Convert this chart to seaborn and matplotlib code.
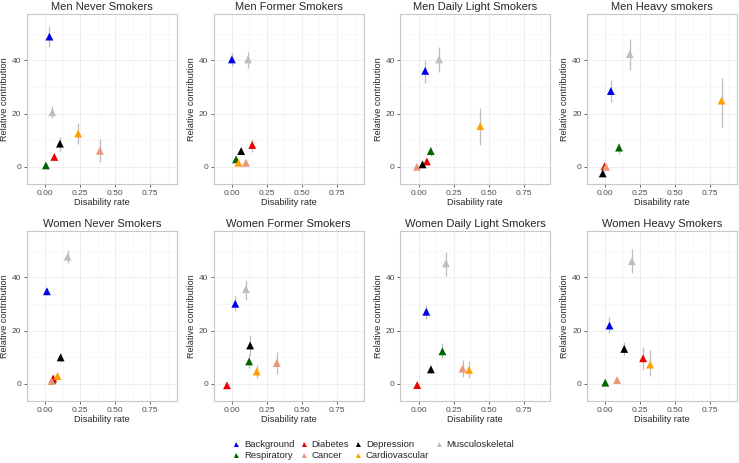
import pandas as pd
import seaborn as sns
import matplotlib.pyplot as plt
from matplotlib.lines import Line2D
from matplotlib.ticker import MultipleLocator

# condition order (also the legend order, column-wise)
conditions = ["Background", "Respiratory", "Diabetes", "Cancer",
              "Depression", "Cardiovascular", "Musculoskeletal"]
colors = ["#0000EE", "#006400", "#EE0000", "#E9967A",
          "#000000", "#FFA000", "#BEBEBE"]

titles = ["Men Never Smokers", "Men Former Smokers", "Men Daily Light Smokers", "Men Heavy smokers",
          "Women Never Smokers", "Women Former Smokers", "Women Daily Light Smokers", "Women Heavy Smokers"]

# values: disability rate, relative contribution, lower / upper bound
men_never_rate = [0.03, 0.005, 0.065, 0.39, 0.105, 0.235, 0.05]
men_never_contrib = [49.0, 0.5, 3.7, 6.0, 8.7, 12.5, 20.5]
men_never_lo = [45.2, 0.0, 2.4, 1.9, 6.0, 8.7, 18.4]
men_never_hi = [53.0, 1.0, 4.7, 10.6, 11.3, 16.6, 23.0]

men_former_rate = [0.0, 0.03, 0.145, 0.10, 0.066, 0.047, 0.115]
men_former_contrib = [40.4, 2.8, 8.2, 1.5, 5.9, 1.5, 40.4]
men_former_lo = [38.0, 2.0, 5.7, 0.6, 4.7, 1.0, 37.0]
men_former_hi = [42.7, 3.6, 10.4, 2.4, 7.2, 2.0, 43.3]

men_light_rate = [0.047, 0.087, 0.059, -0.012, 0.028, 0.44, 0.146]
men_light_contrib = [36.1, 5.9, 2.0, 0.0, 0.9, 15.3, 40.4]
men_light_lo = [31.5, 4.0, 1.1, -0.5, 0.3, 8.2, 35.7]
men_light_hi = [40.1, 7.5, 2.9, 0.5, 1.5, 22.2, 44.9]

men_heavy_rate = [0.04, 0.098, -0.005, 0.005, -0.018, 0.83, 0.175]
men_heavy_contrib = [28.5, 7.2, 0.2, 0.0, -2.5, 24.9, 42.4]
men_heavy_lo = [24.3, 4.9, -0.5, -0.6, -3.4, 15.1, 36.3]
men_heavy_hi = [32.8, 9.1, 0.9, 0.6, -1.6, 33.5, 48.0]

women_never_rate = [0.012, 0.052, 0.057, 0.045, 0.11, 0.088, 0.16]
women_never_contrib = [34.8, 1.5, 2.0, 1.0, 9.9, 2.9, 47.8]
women_never_lo = [33.3, 0.8, 1.1, 0.3, 8.0, 1.9, 45.6]
women_never_hi = [36.2, 2.2, 2.9, 1.7, 11.4, 3.9, 50.4]

women_former_rate = [0.024, 0.123, -0.035, 0.32, 0.13, 0.177, 0.10]
women_former_contrib = [30.1, 8.4, -0.6, 7.8, 14.4, 4.6, 35.6]
women_former_lo = [27.2, 6.1, -1.0, 3.8, 10.9, 2.3, 31.6]
women_former_hi = [33.0, 11.1, -0.2, 12.0, 18.4, 7.1, 39.2]

women_light_rate = [0.055, 0.17, -0.01, 0.314, 0.088, 0.36, 0.195]
women_light_contrib = [27.1, 12.2, -0.5, 5.7, 5.4, 5.2, 45.3]
women_light_lo = [24.3, 9.5, -1.0, 2.7, 3.9, 2.3, 40.6]
women_light_hi = [29.7, 15.3, 0.0, 8.9, 7.0, 8.4, 49.7]

women_heavy_rate = [0.03, 0.0, 0.27, 0.084, 0.135, 0.32, 0.19]
women_heavy_contrib = [21.9, 0.4, 9.6, 1.4, 13.1, 7.2, 46.1]
women_heavy_lo = [19.0, 0.0, 5.3, 0.8, 10.8, 2.8, 41.5]
women_heavy_hi = [25.1, 0.8, 13.9, 2.0, 15.6, 12.6, 50.6]

panels = [
    (men_never_rate, men_never_contrib, men_never_lo, men_never_hi),
    (men_former_rate, men_former_contrib, men_former_lo, men_former_hi),
    (men_light_rate, men_light_contrib, men_light_lo, men_light_hi),
    (men_heavy_rate, men_heavy_contrib, men_heavy_lo, men_heavy_hi),
    (women_never_rate, women_never_contrib, women_never_lo, women_never_hi),
    (women_former_rate, women_former_contrib, women_former_lo, women_former_hi),
    (women_light_rate, women_light_contrib, women_light_lo, women_light_hi),
    (women_heavy_rate, women_heavy_contrib, women_heavy_lo, women_heavy_hi),
]

sns.set_theme(style="white")
plt.rcParams["font.family"] = ["Liberation Sans", "DejaVu Sans"]

palette = dict(zip(conditions, colors))

fig, axes = plt.subplots(2, 4, figsize=(7.39, 4.63), dpi=100)
fig.subplots_adjust(left=27 / 739, right=737 / 739, top=1 - 14 / 463,
                    bottom=62 / 463, wspace=0.245, hspace=0.276)

for ax, title, (rate, contrib, lo, hi) in zip(axes.flat, titles, panels):
    df = pd.DataFrame({"condition": conditions, "rate": rate,
                       "contrib": contrib, "lo": lo, "hi": hi})

    # grey error bars under the markers
    ax.vlines(df["rate"], df["lo"], df["hi"], color="#BDBDBD", lw=0.9, zorder=2)
    sns.scatterplot(data=df, x="rate", y="contrib", hue="condition",
                    hue_order=conditions, palette=palette, marker="^",
                    s=32, linewidth=0, legend=False, ax=ax, zorder=3)

    ax.set_xlim(-0.13, 0.94)
    ax.set_ylim(-6.5, 57.5)
    ax.set_xticks([0, 0.25, 0.5, 0.75])
    ax.set_xticklabels(["0.00", "0.25", "0.50", "0.75"])
    ax.set_yticks([0, 20, 40])
    ax.xaxis.set_minor_locator(MultipleLocator(0.125))
    ax.yaxis.set_minor_locator(MultipleLocator(10))

    ax.grid(which="major", color="#EBEBEB", lw=0.6)
    ax.grid(which="minor", color="#F4F4F4", lw=0.4)
    ax.set_axisbelow(True)
    for sp in ax.spines.values():
        sp.set_color("#C8C8C8")
        sp.set_linewidth(0.8)

    ax.tick_params(which="major", length=2.5, width=0.6, color="#4D4D4D",
                   labelsize=6, labelcolor="#4D4D4D", pad=1.5,
                   bottom=True, left=True)
    ax.tick_params(which="minor", length=0)
    ax.set_title(title, fontsize=8, pad=3)
    ax.set_xlabel("Disability rate", fontsize=6.6, labelpad=1)
    ax.set_ylabel("Relative contribution", fontsize=6.6, labelpad=2)

handles = [Line2D([], [], marker="^", ls="none", color=c, markersize=3.6,
                  markeredgewidth=0) for c in colors]
fig.legend(handles, conditions, ncol=4, loc="center",
           bbox_to_anchor=(0.505, 1 - 450 / 463), frameon=False,
           fontsize=6.8, handlelength=0.8, handletextpad=0.4,
           columnspacing=0.6, labelspacing=0.25)

fig.savefig("out.png", dpi=100)
